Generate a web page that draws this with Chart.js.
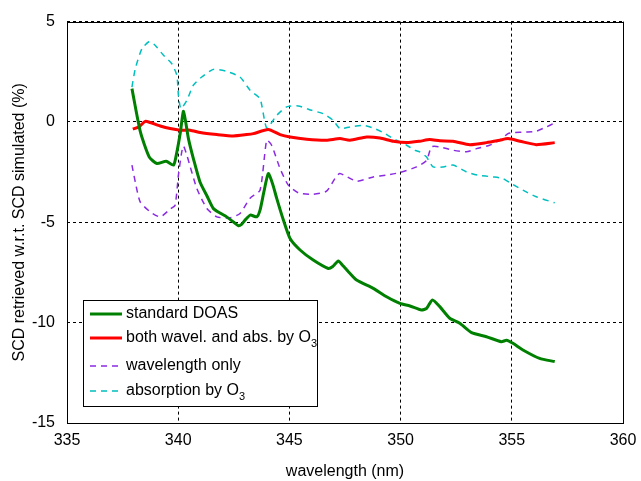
<!DOCTYPE html>
<html>
<head>
<meta charset="utf-8">
<script src="https://cdn.jsdelivr.net/npm/chart.js@4.4.0/dist/chart.umd.min.js"></script>
<style>
  html, body { margin: 0; padding: 0; background: #fff; }
</style>
</head>
<body>
<canvas id="chart" width="641" height="481"></canvas>
<script>
// wavelength (nm) and SCD difference (%) for each run
const standardWl = [337.92, 338.3, 338.7, 339.04, 339.46, 339.79, 339.94, 340.1, 340.24, 340.46, 340.7, 340.98, 341.3, 341.58, 341.9, 342.18, 342.5, 342.71, 342.85, 343.0, 343.24, 343.53, 343.68, 343.85, 344.05, 344.25, 344.43, 344.73, 345.03, 345.48, 346.07, 346.75, 346.95, 347.2, 347.4, 347.65, 348.02, 348.77, 349.37, 349.97, 350.42, 350.94, 351.17, 351.43, 351.76, 352.21, 352.66, 353.19, 353.86, 354.53, 354.76, 355.05, 355.5, 356.25, 356.93];
const standardVal = [1.66, -0.5, -1.75, -2.07, -1.96, -2.15, -1.5, -0.5, 0.53, -0.83, -1.9, -2.99, -3.7, -4.31, -4.55, -4.73, -5.0, -5.17, -5.1, -4.9, -4.64, -4.73, -4.39, -3.5, -2.57, -3.1, -3.81, -4.89, -5.81, -6.38, -6.88, -7.3, -7.2, -6.93, -7.15, -7.46, -7.88, -8.29, -8.71, -9.04, -9.17, -9.37, -9.29, -8.87, -9.2, -9.78, -10.03, -10.5, -10.7, -10.95, -10.88, -11.03, -11.36, -11.78, -11.94];

const bothWl = [337.96, 338.22, 338.52, 338.74, 339.19, 339.64, 340.09, 340.54, 340.99, 341.74, 342.48, 343.08, 343.38, 344.05, 344.58, 345.03, 345.78, 346.67, 347.27, 347.72, 348.47, 349.07, 349.67, 350.27, 350.86, 351.31, 351.76, 352.36, 353.11, 353.86, 354.46, 354.83, 355.37, 356.1, 356.93];
const bothVal = [-0.36, -0.25, 0.03, -0.03, -0.2, -0.33, -0.41, -0.41, -0.53, -0.63, -0.7, -0.63, -0.58, -0.38, -0.63, -0.75, -0.86, -0.91, -0.83, -0.91, -0.75, -0.8, -0.96, -1.03, -0.96, -0.88, -0.94, -0.96, -1.13, -1.03, -0.91, -0.83, -0.96, -1.13, -1.03];

const waveWl = [337.92, 338.07, 338.29, 338.74, 339.19, 339.64, 339.86, 340.01, 340.16, 340.24, 340.39, 340.84, 341.29, 341.74, 342.33, 342.78, 343.23, 343.68, 343.98, 344.2, 344.58, 344.95, 345.4, 346.07, 346.67, 347.05, 347.27, 348.02, 348.77, 349.37, 349.97, 350.72, 351.17, 351.39, 351.76, 352.36, 352.96, 353.41, 354.0, 354.46, 354.83, 355.05, 355.65, 356.1, 356.55, 356.93];
const waveVal = [-2.15, -2.99, -3.98, -4.48, -4.73, -4.34, -4.15, -2.65, -1.49, -1.2, -1.66, -3.32, -4.31, -4.73, -4.78, -4.56, -3.8, -3.4, -0.91, -1.16, -2.32, -3.15, -3.53, -3.6, -3.45, -2.82, -2.57, -2.95, -2.74, -2.65, -2.52, -2.24, -1.91, -1.24, -1.24, -1.41, -1.49, -1.33, -1.16, -0.91, -0.58, -0.53, -0.5, -0.46, -0.25, -0.05];

const absWl = [337.92, 338.07, 338.37, 338.71, 338.97, 339.34, 339.71, 339.94, 340.01, 340.12, 340.39, 340.68, 341.06, 341.58, 342.18, 342.78, 343.23, 343.68, 343.98, 344.43, 344.88, 345.4, 346.0, 346.52, 346.97, 347.27, 347.72, 348.32, 348.77, 349.22, 349.67, 350.27, 350.64, 350.86, 351.16, 351.46, 351.91, 352.36, 352.96, 353.48, 354.16, 354.6, 354.98, 355.5, 356.1, 356.93];
const absVal = [1.74, 2.65, 3.65, 4.01, 3.81, 3.32, 2.9, 2.32, 1.33, 0.66, 1.08, 1.83, 2.24, 2.62, 2.52, 2.24, 1.58, 1.16, -0.3, 0.33, 0.75, 0.8, 0.58, 0.41, 0.08, -0.33, -0.25, -0.17, -0.3, -0.53, -0.83, -1.16, -1.41, -1.49, -1.74, -2.24, -2.24, -2.15, -2.49, -2.65, -2.74, -2.82, -3.07, -3.4, -3.73, -4.03];

const xTicks = [335, 340, 345, 350, 355, 360];
const yTicks = [-15, -10, -5, 0, 5];

const FONT = "'Liberation Sans', Arial, sans-serif";

function toPoints(xs, ys) {
  return xs.map((x, i) => ({ x: x, y: ys[i] }));
}

// legend entries; sub is a subscript drawn after the label
const legendItems = [
  { label: "standard DOAS", sub: "", color: "#008000", width: 3, dash: [] },
  { label: "both wavel. and abs. by O", sub: "3", color: "#ff0000", width: 3, dash: [] },
  { label: "wavelength only", sub: "", color: "#8a2be2", width: 1.5, dash: [6, 5] },
  { label: "absorption by O", sub: "3", color: "#00bfbf", width: 1.5, dash: [6, 5] },
];

// draws the solid box round the axes and the legend with subscripts
const framePlugin = {
  id: "frame",
  afterDraw(chart) {
    const ctx = chart.ctx;
    const a = chart.chartArea;
    ctx.save();
    ctx.strokeStyle = "#000";
    ctx.lineWidth = 1;
    ctx.setLineDash([]);
    ctx.strokeRect(Math.round(a.left) + 0.5, Math.round(a.top) + 0.5,
      Math.round(a.right - a.left), Math.round(a.bottom - a.top));

    // legend box
    const lx = 83.5, ly = 300.5, lw = 234, lh = 106;
    ctx.fillStyle = "#fff";
    ctx.fillRect(lx, ly, lw, lh);
    ctx.strokeRect(lx, ly, lw, lh);
    const rows = [314, 338, 366, 391];
    legendItems.forEach((item, i) => {
      const y = rows[i];
      ctx.beginPath();
      ctx.strokeStyle = item.color;
      ctx.lineWidth = item.width;
      ctx.setLineDash(item.dash);
      ctx.moveTo(90, y);
      ctx.lineTo(122, y);
      ctx.stroke();
      ctx.setLineDash([]);
      ctx.fillStyle = "#000";
      ctx.font = "16px " + FONT;
      ctx.textBaseline = "middle";
      ctx.textAlign = "left";
      ctx.fillText(item.label, 126, y);
      if (item.sub) {
        const w = ctx.measureText(item.label).width;
        ctx.font = "11px " + FONT;
        ctx.fillText(item.sub, 126 + w, y + 6);
      }
    });
    ctx.restore();
  },
};

const canvas = document.getElementById("chart");

const chart = new Chart(canvas, {
  type: "scatter",
  data: {
    datasets: [
      {
        label: "standard DOAS",
        data: toPoints(standardWl, standardVal),
        borderColor: "#008000",
        borderWidth: 3,
      },
      {
        label: "both wavel. and abs. by O3",
        data: toPoints(bothWl, bothVal),
        borderColor: "#ff0000",
        borderWidth: 3,
      },
      {
        label: "wavelength only",
        data: toPoints(waveWl, waveVal),
        borderColor: "#8a2be2",
        borderWidth: 1.5,
        borderDash: [6, 5],
      },
      {
        label: "absorption by O3 only",
        data: toPoints(absWl, absVal),
        borderColor: "#00bfbf",
        borderWidth: 1.5,
        borderDash: [6, 5],
      },
    ].map((d) => Object.assign(d, {
      showLine: true,
      pointRadius: 0,
      tension: 0.2,
      fill: false,
    })),
  },
  options: {
    responsive: false,
    animation: false,
    layout: { padding: { left: 0, right: 18, top: 19, bottom: 0 } },
    plugins: {
      legend: { display: false },
      tooltip: { enabled: false },
    },
    scales: {
      x: {
        type: "linear",
        min: 335,
        max: 360,
        afterBuildTicks: (s) => { s.ticks = xTicks.map((v) => ({ value: v })); },
        afterFit: (s) => { s.height = 58; s.paddingLeft = 0; s.paddingRight = 0; },
        grid: { color: "#000", lineWidth: 1, drawTicks: false },
        border: { display: false, dash: [3, 3] },
        ticks: {
          color: "#000",
          font: { family: FONT, size: 16 },
          padding: 8,
          maxRotation: 0,
          callback: (v) => String(v),
        },
        title: {
          display: true,
          text: "wavelength (nm)",
          color: "#000",
          font: { family: FONT, size: 16 },
          padding: { top: 12, bottom: 0 },
        },
      },
      y: {
        type: "linear",
        min: -15,
        max: 5,
        afterBuildTicks: (s) => { s.ticks = yTicks.map((v) => ({ value: v })); },
        afterFit: (s) => { s.width = 67; },
        grid: { color: "#000", lineWidth: 1, drawTicks: false },
        border: { display: false, dash: [3, 3] },
        ticks: {
          color: "#000",
          font: { family: FONT, size: 16 },
          padding: 12,
          callback: (v) => String(v),
        },
        title: {
          display: true,
          text: "SCD retrieved w.r.t. SCD simulated (%)",
          color: "#000",
          font: { family: FONT, size: 16 },
          padding: { top: 10, bottom: 4 },
        },
      },
    },
  },
  plugins: [framePlugin],
});
</script>
</body>
</html>
